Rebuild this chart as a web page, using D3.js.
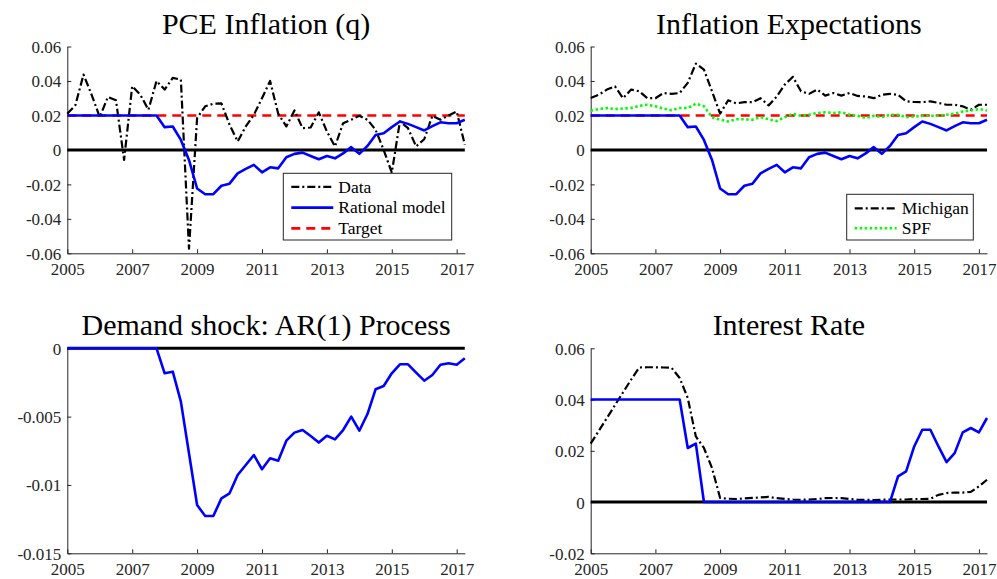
<!DOCTYPE html>
<html><head><meta charset="utf-8">
<script src="https://cdn.jsdelivr.net/npm/d3@7/dist/d3.min.js"></script>
<style>
body{margin:0;background:#fff;}
svg{display:block;font-family:"Liberation Serif","Times New Roman",serif;}
</style></head>
<body><svg id="c" width="997" height="579"></svg>
<script>
// ---- data (quarterly, 2005Q1 .. 2017Q2) ----
const startYear = 2005;
const nQuarters = 50;
const quarters = d3.range(nQuarters).map(i => startYear + i / 4);
const xTicks = [2005, 2007, 2009, 2011, 2013, 2015, 2017];

const pceData = [0.021,0.026,0.0437,0.032,0.019,0.0307,0.0288,-0.0058,0.037,0.032,
  0.0233,0.040,0.035,0.0418,0.0408,-0.0573,0.0185,0.0253,0.0268,0.027,
  0.0146,0.0049,0.0136,0.0204,0.030,0.040,0.021,0.0136,0.0229,0.0126,
  0.013,0.0218,0.0107,0.002,0.0155,0.0175,0.0198,0.0175,0.0117,0.0,
  -0.0132,0.0165,0.0126,0.002,0.0062,0.0198,0.0175,0.020,0.0223,0.003];
const rationalModel = [0.02,0.02,0.02,0.02,0.02,0.02,0.02,0.02,0.02,0.02,
  0.02,0.02,0.0132,0.0136,0.0058,-0.0058,-0.0224,-0.0257,-0.0257,-0.0208,
  -0.0196,-0.0136,-0.011,-0.0087,-0.013,-0.0101,-0.0107,-0.0043,-0.0023,-0.0016,
  -0.0035,-0.0054,-0.0035,-0.0049,-0.002,0.0016,-0.0023,0.0023,0.0087,0.0097,
  0.0132,0.0165,0.0151,0.0132,0.0113,0.0138,0.016,0.0155,0.0155,0.0175];
const target = quarters.map(() => 0.02);

const michigan = [0.0301,0.032,0.035,0.0369,0.030,0.035,0.034,0.030,0.030,0.033,
  0.0325,0.033,0.0389,0.0501,0.0466,0.034,0.021,0.0288,0.027,0.0277,
  0.0277,0.030,0.0258,0.031,0.0379,0.0424,0.034,0.0325,0.035,0.0315,
  0.033,0.0315,0.033,0.0313,0.031,0.030,0.032,0.0325,0.032,0.0282,
  0.0278,0.0277,0.0282,0.0273,0.0262,0.0262,0.0253,0.0233,0.0262,0.0262];
const spf = [0.0227,0.0237,0.0243,0.0237,0.024,0.0243,0.0256,0.0262,0.0253,0.024,
  0.023,0.0243,0.0243,0.0268,0.0253,0.019,0.0175,0.0165,0.0178,0.0178,
  0.0175,0.019,0.0178,0.0167,0.019,0.021,0.0198,0.0204,0.0214,0.0218,
  0.0214,0.0218,0.0204,0.0198,0.0185,0.0198,0.019,0.0204,0.0204,0.019,
  0.0194,0.0198,0.0198,0.0198,0.0204,0.021,0.0223,0.0229,0.0237,0.0229];

const demandShock = [0,0,0,0,0,0,0,0,0,0,
  0,0,-0.00183,-0.00171,-0.0039,-0.00768,-0.01147,-0.01227,-0.01227,-0.01098,
  -0.01061,-0.00927,-0.00854,-0.00781,-0.00885,-0.00805,-0.00823,-0.00676,-0.00617,-0.00598,
  -0.00642,-0.0069,-0.0064,-0.00666,-0.00598,-0.005,-0.00603,-0.00481,-0.003,-0.00276,
  -0.00183,-0.00117,-0.00117,-0.00178,-0.00237,-0.00195,-0.0012,-0.0011,-0.0012,-0.00073];

const rateData = [0.0228,0.0278,0.0328,0.0378,0.0428,0.0478,0.0525,0.0526,0.0526,0.0525,
  0.0524,0.0484,0.0406,0.0256,0.0211,0.0133,0.0016,0.0013,0.0012,0.0014,
  0.0016,0.0018,0.002,0.0015,0.0012,0.001,0.0009,0.001,0.0012,0.0015,
  0.0016,0.0015,0.0012,0.0009,0.0009,0.0008,0.0009,0.001,0.001,0.001,
  0.0012,0.0012,0.0013,0.0028,0.0035,0.0037,0.0037,0.004,0.0061,0.0087];
const rateModel = [0.04,0.04,0.04,0.04,0.04,0.04,0.04,0.04,0.04,0.04,
  0.04,0.04,0.0211,0.0228,0,0,0,0,0,0,
  0,0,0,0,0,0,0,0,0,0,
  0,0,0,0,0,0,0,0,0.01,0.012,
  0.0217,0.0282,0.0282,0.0217,0.0156,0.0191,0.0272,0.0289,0.0272,0.0328];

const yTicksTop = [-0.06,-0.04,-0.02,0,0.02,0.04,0.06];
const yTicksShock = [-0.015,-0.01,-0.005,0];
const yTicksRate = [-0.02,0,0.02,0.04,0.06];

// ---- styles ----
const BLUE = "#0000ff", RED = "#ff0000", GREEN = "#00ff00", AX = "#262626";
const styles = {
  data:   {stroke:"#000", width:2.2, dash:"8,3,2,3"},
  model:  {stroke:BLUE, width:2.6, dash:null},
  target: {stroke:RED, width:2.6, dash:"9,6"},
  mich:   {stroke:"#000", width:2.2, dash:"8,3,2,3"},
  spf:    {stroke:GREEN, width:2.6, dash:"2.5,2.5"},
};

const svg = d3.select("#c");

function panel(cfg) {
  const x = d3.scaleLinear().domain([2005, 2017.25]).range([cfg.x0, cfg.x1]);
  const y = d3.scaleLinear().domain(cfg.yDomain).range([cfg.y1, cfg.y0]);
  const g = svg.append("g");
  const xa = g.append("g").attr("transform", `translate(0,${cfg.y1})`)
    .call(d3.axisBottom(x).tickValues(xTicks).tickFormat(d3.format("d")).tickSizeInner(-4).tickSizeOuter(0).tickPadding(10));
  const ya = g.append("g").attr("transform", `translate(${cfg.x0},0)`)
    .call(d3.axisLeft(y).tickValues(cfg.yTicks).tickFormat(d => d === 0 ? "0" : String(+d.toFixed(3))).tickSizeInner(-4).tickSizeOuter(0).tickPadding(6));
  [xa, ya].forEach(a => {
    a.select(".domain").attr("stroke", AX).attr("stroke-width", 1);
    a.selectAll(".tick line").attr("stroke", AX).attr("stroke-width", 1);
    a.selectAll(".tick text").attr("fill", AX).style("font-size", "17px").style("font-family", '"Liberation Serif",serif');
  });
  ya.selectAll(".tick text").attr("dy", "0.35em");
  g.append("line").attr("x1", cfg.x0).attr("x2", cfg.x1).attr("y1", y(0)).attr("y2", y(0))
    .attr("stroke", "#000").attr("stroke-width", 3);
  const line = d3.line().x((d, i) => x(quarters[i])).y(d => y(d));
  cfg.series.forEach(s => {
    const st = styles[s.style];
    g.append("path").datum(s.values).attr("d", line).attr("fill", "none")
      .attr("stroke", st.stroke).attr("stroke-width", st.width)
      .attr("stroke-dasharray", st.dash).attr("stroke-linejoin", "round");
  });
  g.append("text").attr("x", (cfg.x0 + cfg.x1) / 2).attr("y", cfg.y0 - 13)
    .attr("text-anchor", "middle").style("font-size", "30px").attr("fill", "#000").text(cfg.title);
  if (cfg.legend) {
    const L = cfg.legend;
    const gl = g.append("g");
    gl.append("rect").attr("x", L.x).attr("y", L.y).attr("width", L.w).attr("height", L.h)
      .attr("fill", "#fff").attr("stroke", AX).attr("stroke-width", 1);
    L.items.forEach((it, k) => {
      const st = styles[it.style];
      const yy = L.y + L.first + k * L.step;
      gl.append("line").attr("x1", L.x + 8).attr("x2", L.x + 50).attr("y1", yy).attr("y2", yy)
        .attr("stroke", st.stroke).attr("stroke-width", st.width).attr("stroke-dasharray", st.dash);
      gl.append("text").attr("x", L.x + 55).attr("y", yy).attr("dy", "0.33em")
        .style("font-size", "17.5px").attr("fill", "#000").text(it.label);
    });
  }
}

panel({x0:67.3, x1:464.8, y0:46.5, y1:253.3, yDomain:[-0.06,0.06], yTicks:yTicksTop,
  title:"PCE Inflation (q)",
  series:[{values:target, style:"target"},{values:pceData, style:"data"},{values:rationalModel, style:"model"}],
  legend:{x:283.3, y:173.3, w:168.4, h:66.7, first:13.5, step:20.8,
    items:[{label:"Data", style:"data"},{label:"Rational model", style:"model"},{label:"Target", style:"target"}]}
});
panel({x0:590.7, x1:987, y0:46.5, y1:253.3, yDomain:[-0.06,0.06], yTicks:yTicksTop,
  title:"Inflation Expectations",
  series:[{values:michigan, style:"mich"},{values:target, style:"target"},{values:spf, style:"spf"},{values:rationalModel, style:"model"}],
  legend:{x:846.7, y:194.3, w:126.6, h:45.7, first:14, step:20,
    items:[{label:"Michigan", style:"mich"},{label:"SPF", style:"spf"}]}
});
panel({x0:67.3, x1:464.8, y0:348.3, y1:553.3, yDomain:[-0.015,0], yTicks:yTicksShock,
  title:"Demand shock: AR(1) Process",
  series:[{values:demandShock, style:"model"}]
});
panel({x0:590.7, x1:987, y0:348.3, y1:553.3, yDomain:[-0.02,0.06], yTicks:yTicksRate,
  title:"Interest Rate",
  series:[{values:rateData, style:"data"},{values:rateModel, style:"model"}]
});
</script></body></html>
